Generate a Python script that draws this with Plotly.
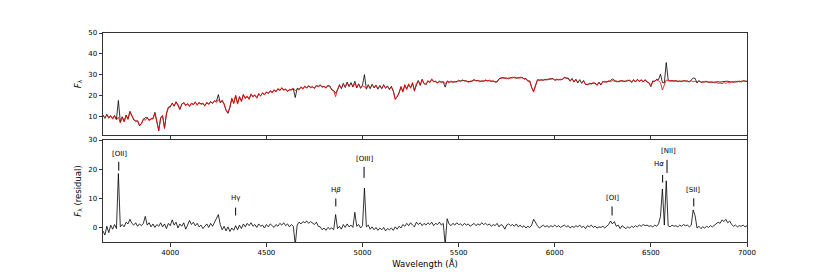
import plotly.graph_objects as go

# ---------------- data (10 Å sampling from 3650 Å) ----------------
wave_start = 3650
wave_step = 10

flux_model = [
    10.2, 9.4, 10.6, 9.0, 10.4, 8.6, 10.0, 8.2, 9.6, 6.8,        # 3650
    9.4, 7.2, 10.2, 8.4, 12.0, 10.0, 8.6, 7.4, 8.0, 5.8,         # 3750
    6.2, 8.8, 8.0, 9.6, 7.8, 9.0, 8.6, 11.5, 7.0, 3.4,           # 3850
    9.0, 10.5, 4.0, 11.5, 14.0, 14.8, 16.0, 15.2, 16.6, 15.8,    # 3950
    13.6, 15.6, 16.8, 15.0, 16.2, 14.6, 16.4, 15.4, 17.0, 15.2,  # 4050
    16.8, 15.6, 16.4, 14.8, 16.8, 15.6, 17.2, 16.0, 17.6, 16.6,  # 4150
    18.0, 16.8, 17.8, 15.6, 13.2, 11.8, 14.5, 18.8, 16.0, 20.2,  # 4250
    15.8, 19.6, 17.0, 20.6, 18.4, 19.8, 18.0, 20.8, 19.2, 20.4,  # 4350
    18.6, 21.0, 19.6, 21.4, 20.2, 21.8, 20.8, 22.4, 21.2, 22.8,  # 4450
    21.6, 23.4, 22.2, 23.8, 22.4, 23.2, 21.8, 23.0, 22.4, 23.6,  # 4550
    22.2, 23.0, 22.6, 24.2, 23.0, 24.6, 23.4, 24.8, 23.6, 24.4,  # 4650
    23.2, 25.0, 24.0, 25.2, 23.8, 24.6, 23.4, 25.0, 24.2, 23.0,  # 4750
    22.0, 19.4, 23.0, 24.8, 23.6, 25.4, 24.2, 26.0, 24.6, 25.8,  # 4850
    24.4, 25.6, 24.0, 25.2, 23.8, 24.6, 24.2, 23.4, 24.8, 23.6,  # 4950
    25.0, 24.0, 24.6, 23.4, 24.4, 23.6, 24.8, 23.8, 24.2, 23.2,  # 5050
    24.0, 22.4, 18.0, 19.6, 21.0, 24.4, 21.6, 25.2, 22.8, 25.6,  # 5150
    23.4, 26.2, 22.0, 25.8, 26.8, 25.2, 27.4, 26.0, 25.0, 27.2,  # 5250
    26.0, 28.0, 26.4, 27.0, 25.8, 27.0, 26.2, 26.8, 25.6, 26.6,  # 5350
    26.0, 27.0, 26.2, 26.8, 26.4, 27.4, 26.6, 27.6, 26.8, 27.2,  # 5450
    26.2, 27.0, 26.6, 27.8, 26.8, 27.4, 26.4, 27.2, 26.6, 27.6,  # 5550
    26.8, 27.4, 26.6, 27.2, 26.2, 26.8, 27.6, 28.6, 28.2, 28.6,  # 5650
    28.0, 28.4, 28.2, 28.8, 28.4, 28.6, 28.2, 28.8, 28.4, 28.2,  # 5750
    27.8, 27.2, 26.6, 24.0, 21.6, 25.0, 27.2, 27.6, 27.2, 27.6,  # 5850
    27.4, 27.8, 27.6, 28.2, 27.8, 27.6, 27.4, 27.8, 27.4, 28.0,  # 5950
    28.4, 28.6, 28.0, 27.2, 27.8, 26.8, 27.4, 26.4, 27.2, 26.2,  # 6050
    26.8, 25.6, 25.0, 26.0, 25.4, 26.2, 25.6, 25.2, 26.0, 25.4,  # 6150
    26.4, 26.8, 26.2, 27.0, 26.6, 27.2, 26.8, 27.0, 26.4, 27.2,  # 6250
    26.8, 27.0, 26.6, 27.4, 27.0, 26.6, 27.2, 26.8, 27.4, 27.0,  # 6350
    27.2, 26.8, 27.2, 26.8, 25.8, 24.6, 26.6, 27.0, 27.4, 27.0,  # 6450
    26.2, 22.6, 25.6, 27.4, 27.0, 27.2, 26.8, 27.2, 26.8, 27.0,  # 6550
    26.6, 27.0, 26.8, 27.2, 26.6, 26.8, 27.0, 26.6, 26.8, 26.4,  # 6650
    26.8, 26.6, 26.2, 26.8, 26.4, 26.6, 26.2, 26.6, 26.0, 26.2,  # 6750
    25.8, 26.0, 25.6, 26.2, 25.8, 26.4, 26.0, 26.6, 26.2, 26.8,  # 6850
    26.4, 27.0, 26.4, 27.2, 26.6, 27.0,                          # 6950
]

flux_obs = [
    10.6, 9.0, 11.0, 9.4, 10.0, 9.0, 10.4, 8.6, 17.6, 7.2,       # 3650
    9.8, 7.6, 10.6, 8.8, 12.4, 10.4, 8.2, 7.8, 7.6, 5.4,         # 3750
    6.6, 8.4, 9.4, 9.2, 8.2, 8.6, 9.0, 11.9, 6.6, 3.0,           # 3850
    9.4, 10.1, 4.4, 11.1, 14.4, 14.4, 16.4, 14.8, 17.0, 15.4,    # 3950
    13.2, 16.0, 16.4, 15.4, 15.8, 15.0, 16.0, 15.8, 16.6, 15.6,  # 4050
    16.4, 16.0, 16.0, 15.2, 16.4, 16.0, 16.8, 16.4, 17.2, 17.2,  # 4150
    20.4, 16.4, 17.4, 16.0, 12.8, 11.4, 14.1, 18.4, 16.4, 19.8,  # 4250
    16.2, 19.2, 17.4, 20.2, 18.8, 19.4, 18.4, 20.4, 19.6, 20.0,  # 4350
    19.0, 20.6, 20.0, 21.0, 20.6, 21.4, 21.2, 22.0, 21.6, 22.4,  # 4450
    22.0, 23.0, 22.6, 23.4, 22.8, 22.8, 22.2, 22.6, 22.8, 23.2,  # 4550
    19.0, 23.4, 23.0, 23.8, 23.4, 24.2, 23.8, 24.4, 24.0, 24.0,  # 4650
    23.6, 24.6, 24.4, 24.8, 24.2, 24.2, 23.8, 24.6, 24.6, 22.6,  # 4750
    22.4, 21.0, 22.6, 25.2, 23.2, 25.8, 23.8, 26.4, 24.2, 26.2,  # 4850
    24.0, 26.8, 23.6, 25.6, 23.4, 25.0, 30.0, 23.0, 25.2, 23.2,  # 4950
    25.4, 23.6, 25.0, 23.0, 24.8, 23.2, 25.2, 23.4, 24.6, 22.8,  # 5050
    24.4, 22.0, 18.4, 19.2, 21.4, 24.0, 22.0, 24.8, 23.2, 25.2,  # 5150
    23.8, 25.8, 22.4, 25.4, 27.2, 24.8, 27.8, 25.6, 25.4, 26.8,  # 5250
    26.4, 27.6, 26.8, 26.6, 26.2, 26.6, 26.6, 26.4, 24.0, 27.0,  # 5350
    26.4, 26.6, 26.6, 26.4, 26.8, 27.0, 27.0, 27.2, 27.2, 26.8,  # 5450
    26.6, 26.6, 27.0, 27.4, 27.2, 27.0, 26.8, 26.8, 27.0, 27.2,  # 5550
    27.2, 27.0, 27.0, 26.8, 26.6, 26.4, 28.0, 28.2, 28.6, 28.2,  # 5650
    28.4, 28.0, 28.6, 28.4, 28.8, 28.2, 28.6, 28.4, 28.8, 27.8,  # 5750
    28.2, 26.8, 27.0, 23.6, 22.0, 24.6, 27.6, 27.2, 27.6, 27.2,  # 5850
    27.8, 27.4, 28.0, 27.8, 28.2, 27.2, 27.8, 27.4, 27.8, 27.6,  # 5950
    28.8, 28.2, 28.4, 26.8, 28.2, 26.4, 27.8, 26.0, 27.6, 25.8,  # 6050
    27.2, 25.2, 25.4, 25.6, 25.8, 25.8, 26.0, 24.8, 26.4, 25.0,  # 6150
    26.8, 26.4, 26.6, 26.6, 27.0, 28.0, 27.2, 26.6, 26.8, 26.8,  # 6250
    27.2, 26.6, 27.0, 27.0, 27.4, 26.2, 27.6, 26.4, 27.8, 26.6,  # 6350
    27.6, 26.4, 27.6, 26.4, 26.2, 24.2, 27.0, 26.6, 27.8, 27.6,  # 6450
    30.2, 26.2, 26.0, 35.8, 27.4, 26.8, 27.2, 26.8, 27.2, 26.6,  # 6550
    27.0, 26.6, 27.2, 26.8, 27.0, 26.4, 27.4, 28.4, 28.2, 26.0,  # 6650
    27.2, 26.2, 26.6, 26.4, 26.8, 26.2, 26.6, 26.2, 26.4, 26.6,  # 6750
    26.6, 26.4, 26.6, 26.6, 26.8, 26.8, 26.6, 26.4, 26.6, 26.4,  # 6850
    26.8, 26.6, 26.8, 26.8, 27.0, 26.6,                          # 6950
]

residual = [
    -1.2, -2.6, 0.4, -1.8, 0.8, -0.6, 1.0, -0.4, 18.5, 0.2,      # 3650
    1.0, 0.2, 1.8, 1.2, 2.8, 1.4, 0.8, 1.6, 0.4, 1.2,            # 3750
    0.6, 1.4, 3.8, 0.8, 1.6, 0.2, 1.2, 0.0, 1.0, 0.4,            # 3850
    1.6, 0.2, 1.2, -0.4, 1.4, 0.6, 2.6, 0.8, 1.8, -0.2,          # 3950
    1.2, 0.4, 1.6, -0.6, 0.8, 2.4, 1.0, 1.8, 0.6, 1.4,           # 4050
    0.2, 0.8, -0.4, 0.6, 1.2, 0.0, 1.4, 0.4, 1.8, 2.6,           # 4150
    4.4, 1.0, -0.8, 0.4, -1.2, 0.2, -1.4, -0.2, -1.0, 0.6,       # 4250
    -0.8, 0.8, -0.4, 1.2, 0.2, 1.4, 0.6, 1.6, 0.4, 1.0,          # 4350
    0.0, 1.2, 0.4, 0.8, -0.2, 1.0, 0.2, 1.2, 0.6, 0.0,           # 4450
    1.0, 0.4, 1.4, 0.8, 1.6, 0.6, 1.2, 0.2, 1.0, 0.4,            # 4550
    -6.0, 0.8, 1.8, 1.2, 2.0, 1.6, 2.2, 1.4, 2.0, 1.6,           # 4650
    1.0, 1.8, 0.4, 0.2, -0.8, -0.2, -1.0, 0.0, -0.6, -0.2,       # 4750
    -0.8, 4.4, -0.4, 0.4, -0.6, 1.0, 0.0, 1.2, 0.2, 0.8,         # 4850
    0.0, 5.2, 0.4, 1.0, -0.2, 0.6, 13.5, 0.2, 0.8, -0.6,         # 4950
    0.2, -0.8, 0.0, -1.0, -0.2, -0.8, 0.0, -1.2, -0.4, -0.8,     # 5050
    -0.2, -1.0, 0.2, -0.6, 0.4, -0.2, 1.0, 0.4, 1.4, 0.6,        # 5150
    1.6, 0.8, 0.2, 1.8, 1.0, 1.6, 0.6, 1.4, 0.8, 1.6,            # 5250
    1.0, 1.8, 0.6, 1.4, 1.0, 1.8, 0.8, 1.4, -6.0, 3.0,           # 5350
    1.2, 0.6, 1.4, 0.8, 1.6, 1.0, 1.2, 0.6, 1.4, 0.8,            # 5450
    1.2, 0.4, 1.0, 1.4, 0.6, 1.2, 0.8, 1.6, 1.0, 1.4,            # 5550
    0.8, 1.2, 0.4, 1.0, 0.6, 1.4, 0.2, 1.0, 0.6, -0.6,           # 5650
    0.8, 1.2, 0.6, 1.0, 0.4, 1.2, 0.2, 0.8, 0.0, 0.6,            # 5750
    -0.2, 0.4, 0.0, 0.8, 2.8, 1.4, 0.6, -0.2, 0.4, 0.8,          # 5850
    0.2, 0.6, 0.0, 0.6, 0.2, 0.8, 0.2, 0.6, 0.0, 0.4,            # 5950
    0.8, 0.2, 0.6, -0.2, 0.4, 0.0, 0.6, 0.2, 0.8, 0.0,           # 6050
    0.4, -0.4, 0.6, 0.2, 0.8, 0.0, 0.4, -0.2, 0.2, 0.0,          # 6150
    0.4, -0.2, 0.6, 1.0, 2.2, 1.2, 2.0, 0.4, 0.8, -0.4,          # 6250
    0.6, 0.0, -0.4, 0.2, -0.2, 0.4, 0.0, 0.6, 0.2, 0.8,          # 6350
    0.4, 1.0, 0.6, 0.8, 0.4, 0.6, 0.2, 0.8, 0.4, 1.2,            # 6450
    3.8, 13.2, 0.8, 16.0, 0.6, 0.2, 0.8, 0.4, 0.6, 0.2,          # 6550
    0.8, 0.4, 1.0, 0.6, 0.8, 0.2, 0.8, 6.0, 4.0, -0.2,           # 6650
    0.4, -0.4, 0.2, -0.2, 0.4, 0.0, 0.6, 0.2, 0.8, 1.2,          # 6750
    1.8, 1.4, 2.6, 2.0, 2.8, 1.6, 2.2, 1.0, 0.4, 0.8,            # 6850
    0.2, 0.6, 0.4, 0.8, 0.2, 0.6,                                # 6950
]

wavelength = [wave_start + wave_step * i for i in range(len(flux_model))]

x_ticks = [4000, 4500, 5000, 5500, 6000, 6500, 7000]
y_top_ticks = [10, 20, 30, 40, 50]
y_bot_ticks = [0, 10, 20, 30]

# emission line identifications
line_labels = ["[OII]", "Hγ", "H<i>β</i>", "[OIII]", "[OI]", "H<i>α</i>", "[NII]", "[SII]"]
line_waves = [3732, 4340, 4861, 5008, 6298, 6561, 6584, 6723]
label_waves = [3735, 4340, 4861, 5010, 6298, 6540, 6593, 6720]
tick_low = [19.5, 4.1, 7.2, 17.0, 4.1, 15.4, 18.7, 7.2]
tick_high = [22.5, 6.8, 9.9, 20.8, 7.2, 18.0, 23.2, 10.0]
label_level = [25.2, 10.0, 13.0, 23.4, 10.0, 21.6, 26.2, 13.0]

# ---------------- figure ----------------
FONT = "DejaVu Sans"
fig = go.Figure()
fig.add_trace(go.Scatter(x=wavelength, y=flux_obs, mode="lines",
                         line=dict(color="black", width=0.8), xaxis="x", yaxis="y"))
fig.add_trace(go.Scatter(x=wavelength, y=flux_model, mode="lines",
                         line=dict(color="red", width=0.8), xaxis="x", yaxis="y"))
fig.add_trace(go.Scatter(x=wavelength, y=residual, mode="lines",
                         line=dict(color="black", width=0.8), xaxis="x2", yaxis="y2"))

axis_common = dict(showline=True, mirror=True, linecolor="#333333", linewidth=1,
                   ticks="outside", ticklen=3.5, tickwidth=0.8, tickcolor="#333333",
                   showgrid=False, zeroline=False, automargin=False,
                   tickfont=dict(family=FONT, size=7, color="black"))

# page body has an 8 px margin, so the figure is offset by (8, 8)
fig.update_layout(
    width=822, height=269,
    margin=dict(l=95, r=83, t=25, b=35),
    paper_bgcolor="white", plot_bgcolor="white",
    showlegend=False,
    font=dict(family=FONT, color="black"),
    xaxis=dict(domain=[0, 1], range=[3650, 7000], anchor="y",
               tickvals=x_ticks, showticklabels=False, **axis_common),
    xaxis2=dict(domain=[0, 1], range=[3650, 7000], anchor="y2",
                tickvals=x_ticks, ticktext=[str(t) for t in x_ticks],
                title=dict(text="Wavelength (Å)", font=dict(family=FONT, size=8.5), standoff=5),
                **axis_common),
    yaxis=dict(domain=[0.512, 1], range=[1, 50], anchor="x", tickvals=y_top_ticks,
               title=dict(text="<i>F</i><sub>λ</sub>", font=dict(family=FONT, size=8.5), standoff=5),
               **axis_common),
    yaxis2=dict(domain=[0, 0.488], range=[-5, 30], anchor="x2", tickvals=y_bot_ticks,
                title=dict(text="<i>F</i><sub>λ</sub> (residual)", font=dict(family=FONT, size=8.5), standoff=5),
                **axis_common),
)

for name, w, lw, lo, hi, ly in zip(line_labels, line_waves, label_waves, tick_low, tick_high, label_level):
    fig.add_shape(type="line", xref="x2", yref="y2", x0=w, x1=w, y0=lo, y1=hi,
                  line=dict(color="black", width=1))
    fig.add_annotation(x=lw, y=ly, xref="x2", yref="y2", text=name, showarrow=False,
                       font=dict(family=FONT, size=7, color="black"),
                       xanchor="center", yanchor="middle")

fig.write_html("out.html")
